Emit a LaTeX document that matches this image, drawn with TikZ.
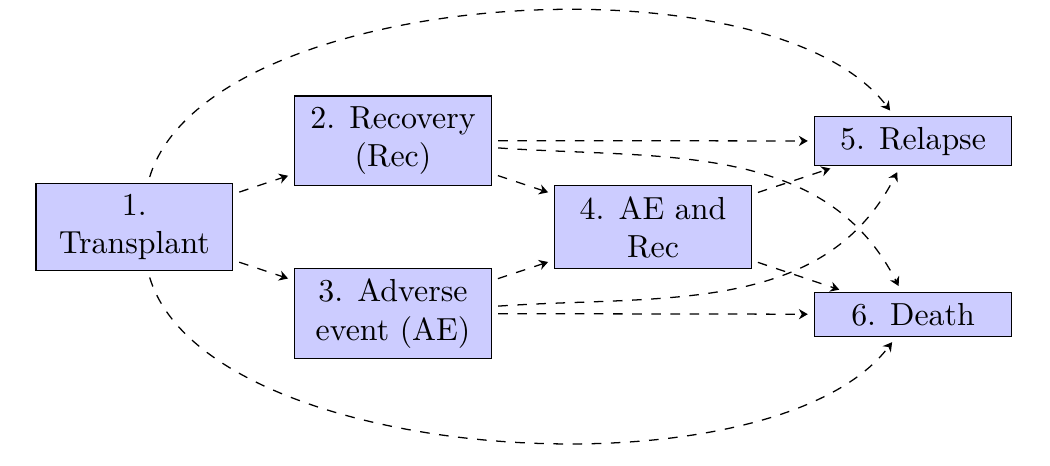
\documentclass[tikz,border=0pt]{standalone}
\usetikzlibrary{arrows.meta}
\begin{document}
\begin{tikzpicture}
  \tikzstyle{state}=[draw, fill=blue!20, text width=1.93cm, align=flush center]
  \tikzstyle{trans}=[dashed, -{Stealth[length=2.8pt,width=3.2pt]}, shorten >=2pt, shorten <=2pt]
  \useasboundingbox (0,0) rectangle (11.569,5.134);
  \node[state] (tx) at (1.48,2.63) {1. Transplant};
  \node[state] (rec) at (4.33,3.585) {2. Recovery (Rec)};
  \node[state] (ae) at (4.33,1.68) {3. Adverse event (AE)};
  \node[state] (aerec) at (7.195,2.63) {4. AE and Rec};
  \node[state] (rel) at (10.06,3.58) {5. Relapse};
  \node[state] (death) at (10.06,1.67) {6. Death};
  \draw[trans] (tx) -- (rec);
  \draw[trans] (tx) -- (ae);
  \draw[trans] (rec) -- (aerec);
  \draw[trans] (ae) -- (aerec);
  \draw[trans] (rec) -- (rel);
  \draw[trans] (ae) -- (death);
  \draw[trans] (aerec) -- (rel);
  \draw[trans] (aerec) -- (death);
  \draw[trans] (rec) to[out=-4, in=117, looseness=1] (death);
  \draw[trans] (ae) to[out=4, in=-117, looseness=1] (rel);
  \draw[trans] (tx) to[out=73, in=127, looseness=0.7] (rel);
  \draw[trans] (tx) to[out=-73, in=-127, looseness=0.7] (death);
\end{tikzpicture}
\end{document}
